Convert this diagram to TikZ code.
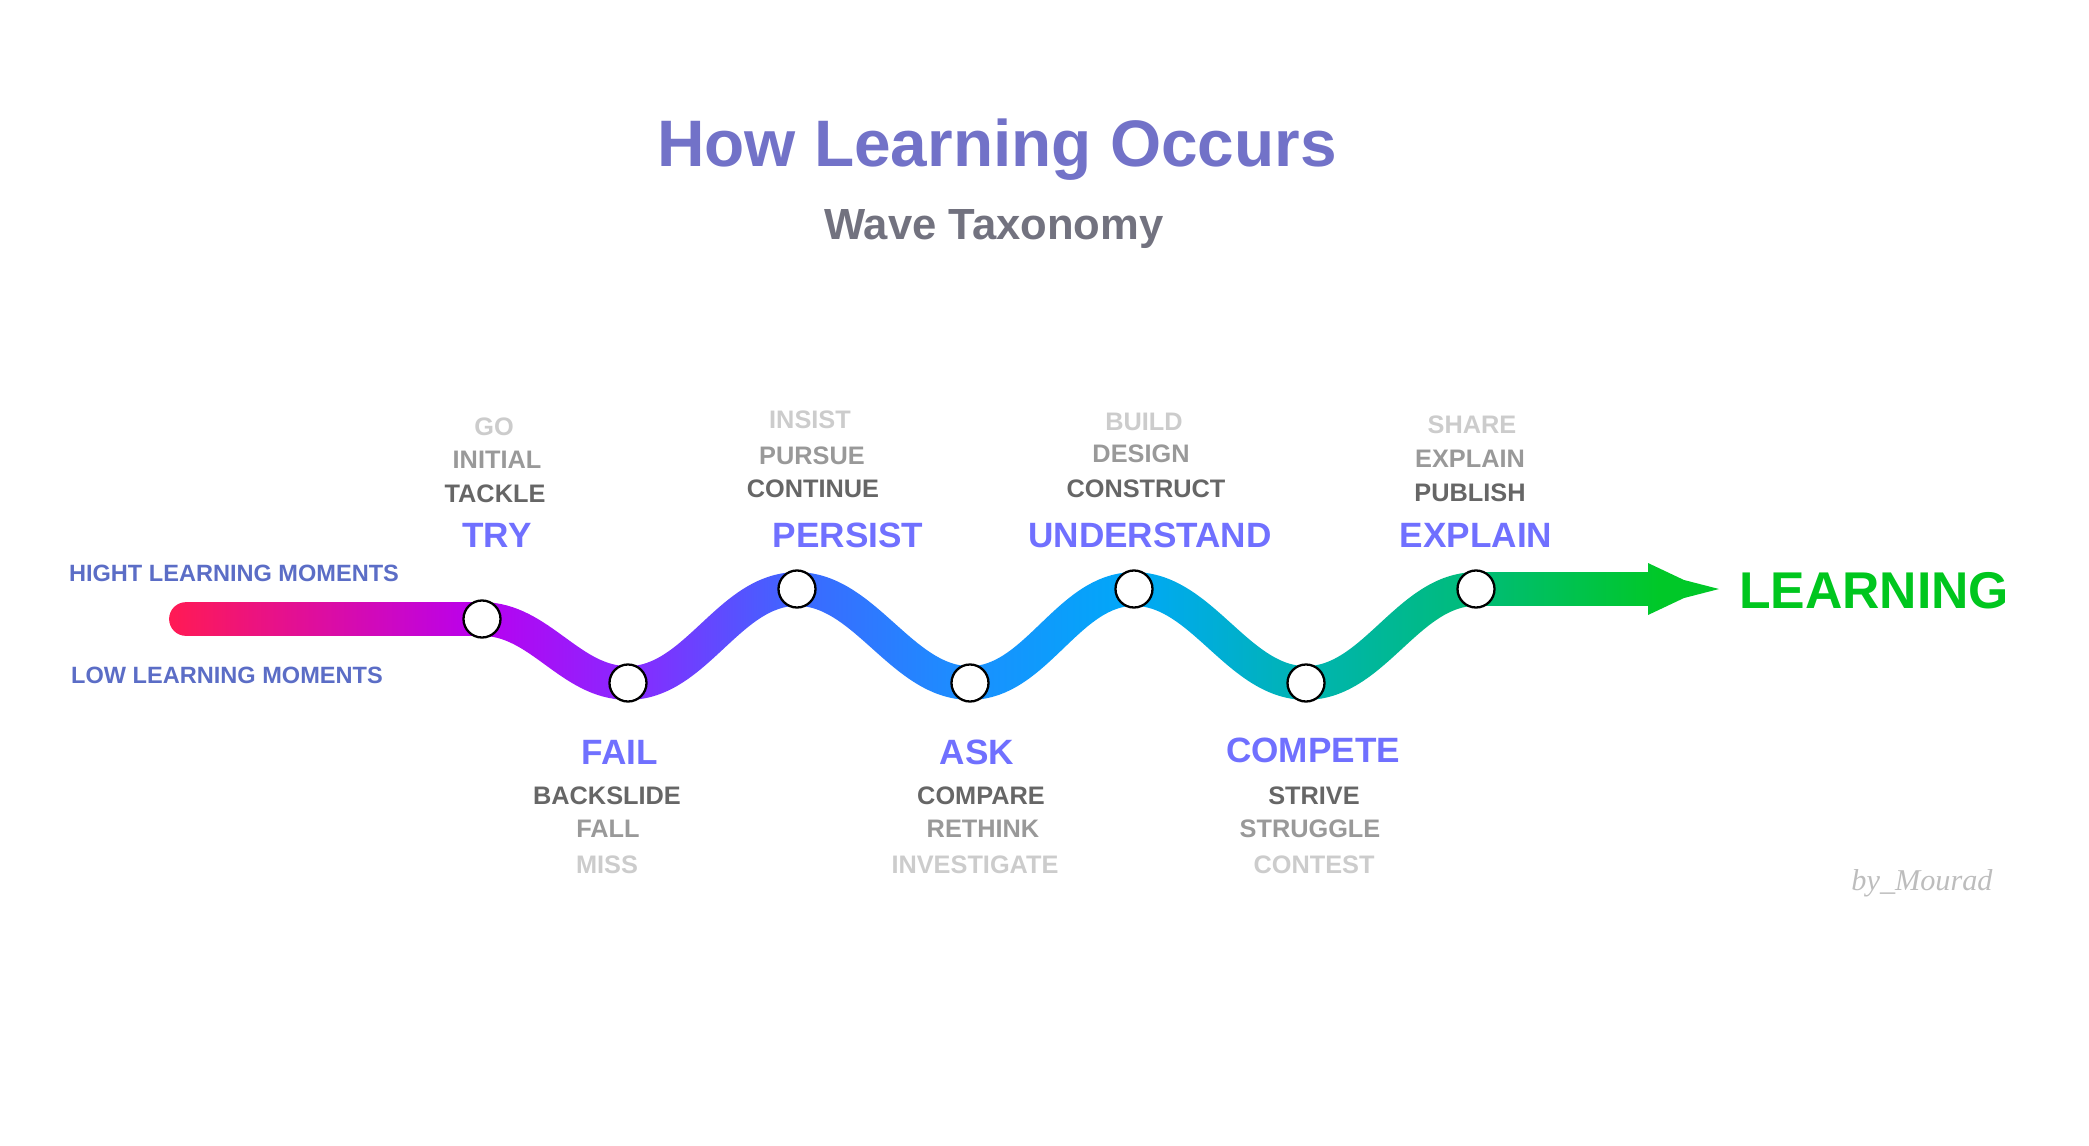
\documentclass[tikz,border=0pt]{standalone}
\usepackage{fontspec}
\setmainfont{Liberation Sans}
\newfontfamily\signfont{Liberation Serif}
\usetikzlibrary{fadings}

\definecolor{titleblue}{HTML}{7272C8}
\definecolor{subgray}{HTML}{72727F}
\definecolor{stageblue}{HTML}{7070FF}
\definecolor{momentblue}{HTML}{5B6DC6}
\definecolor{wdark}{HTML}{666666}
\definecolor{wmid}{HTML}{999999}
\definecolor{wlight}{HTML}{CCCCCC}
\definecolor{learngreen}{HTML}{00C61E}
\definecolor{signgray}{HTML}{BDBDBD}
\definecolor{waveA}{HTML}{FF1A55}
\definecolor{waveB}{HTML}{B800F0}
\definecolor{waveC}{HTML}{8A28FF}
\definecolor{waveD}{HTML}{3C68FF}
\definecolor{waveE}{HTML}{1A90FF}
\definecolor{waveF}{HTML}{00A8F8}
\definecolor{waveG}{HTML}{00B4B0}
\definecolor{waveH}{HTML}{00BC78}
\definecolor{waveI}{HTML}{00C828}

\pgfdeclarehorizontalshading{wavegrad}{100bp}{color(0bp)=(waveA); color(29.1bp)=(waveA);
  color(36.5bp)=(waveB); color(40bp)=(waveC); color(44.1bp)=(waveD); color(48.2bp)=(waveE);
  color(52.1bp)=(waveF); color(56.3bp)=(waveG); color(60.3bp)=(waveH); color(64.7bp)=(waveI);
  color(100bp)=(waveI)}

% the wave and the arrow, as a mask
\begin{tikzfadingfrompicture}[name=wavefade]
  \begin{scope}[x=0.01cm, y=-0.01cm, shift={(-1044.5,-572.5)}]
    \useasboundingbox (0,0) rectangle (2089,1145);
    \coordinate (w0) at (186,619);
    \coordinate (w1) at (482,619);
    \coordinate (w2) at (628,683);
    \coordinate (w3) at (797,589);
    \coordinate (w4) at (970,683);
    \coordinate (w5) at (1134,589);
    \coordinate (w6) at (1306,683);
    \coordinate (w7) at (1476,589);
    \coordinate (w8) at (1652,589);
    \coordinate (tip) at (1719,589);
    \draw[transparent!0, line width=9.6pt, line cap=round] (w0) -- (w1)
      .. controls +(58,0) and +(-58,0) .. (w2)
      .. controls +(68,0) and +(-68,0) .. (w3)
      .. controls +(68,0) and +(-68,0) .. (w4)
      .. controls +(66,0) and +(-66,0) .. (w5)
      .. controls +(68,0) and +(-68,0) .. (w6)
      .. controls +(68,0) and +(-68,0) .. (w7) -- (w8);
    \fill[transparent!0] (1648,563) -- (1684,580) -- (tip) -- (1684,598) -- (1648,615) -- cycle;
  \end{scope}
\end{tikzfadingfrompicture}

\begin{document}
\begin{tikzpicture}[x=0.01cm, y=-0.01cm, shift={(-1044.5,-572.5)},
    dot/.style={circle, draw=black, fill=white, line width=0.65pt, minimum size=0.37cm, inner sep=0pt},
    stage/.style={font=\fontsize{10}{12}\selectfont\bfseries, text=stageblue, inner sep=0pt, anchor=base},
    word/.style={font=\fontsize{7.2}{9}\selectfont\bfseries, inner sep=0pt, anchor=base},
    moment/.style={font=\fontsize{6.7}{8}\selectfont\bfseries, text=momentblue, inner sep=0pt, anchor=base}]
  \useasboundingbox (0,0) rectangle (2089,1145);

  \node[font=\fontsize{18.7}{22}\selectfont\bfseries, text=titleblue, inner sep=0pt, anchor=base]
    (title) at (997,167) {How Learning Occurs};
  \node[font=\fontsize{12.4}{14}\selectfont\bfseries, text=subgray, inner sep=0pt, anchor=base]
    (subtitle) at (994,240) {Wave Taxonomy};

  \shade[path fading=wavefade, fit fading=false, shading=wavegrad] (0,0) rectangle (2089,1145);

  \node[dot] (try) at (482,619) {};
  \node[dot] (fail) at (628,683) {};
  \node[dot] (persist) at (797,589) {};
  \node[dot] (ask) at (970,683) {};
  \node[dot] (understand) at (1134,589) {};
  \node[dot] (compete) at (1306,683) {};
  \node[dot] (explain) at (1476,589) {};

  \node[moment] (high) at (234,581) {HIGHT LEARNING MOMENTS};
  \node[moment] (low) at (227,683) {LOW LEARNING MOMENTS};

  \node[word, text=wlight] (go) at (494,435) {GO};
  \node[word, text=wmid] (initial) at (497,468) {INITIAL};
  \node[word, text=wdark] (tackle) at (495,502) {TACKLE};
  \node[stage] (trylbl) at (497,547) {TRY};

  \node[word, text=wlight] (insist) at (810,428) {INSIST};
  \node[word, text=wmid] (pursue) at (812,464) {PURSUE};
  \node[word, text=wdark] (continue) at (813,497) {CONTINUE};
  \node[stage] (persistlbl) at (848,547) {PERSIST};

  \node[word, text=wlight] (build) at (1144,430) {BUILD};
  \node[word, text=wmid] (design) at (1141,462) {DESIGN};
  \node[word, text=wdark] (construct) at (1146,497) {CONSTRUCT};
  \node[stage] (understandlbl) at (1150,547) {UNDERSTAND};

  \node[word, text=wlight] (share) at (1472,433) {SHARE};
  \node[word, text=wmid] (explainw) at (1470,467) {EXPLAIN};
  \node[word, text=wdark] (publish) at (1470,501) {PUBLISH};
  \node[stage] (explainlbl) at (1476,547) {EXPLAIN};

  \node[stage] (faillbl) at (620,764) {FAIL};
  \node[word, text=wdark] (backslide) at (607,804) {BACKSLIDE};
  \node[word, text=wmid] (fall) at (608,837) {FALL};
  \node[word, text=wlight] (miss) at (607,873) {MISS};

  \node[stage] (asklbl) at (977,764) {ASK};
  \node[word, text=wdark] (compare) at (981,804) {COMPARE};
  \node[word, text=wmid] (rethink) at (983,837) {RETHINK};
  \node[word, text=wlight] (investigate) at (975,873) {INVESTIGATE};

  \node[stage] (competelbl) at (1313,762) {COMPETE};
  \node[word, text=wdark] (strive) at (1314,804) {STRIVE};
  \node[word, text=wmid] (struggle) at (1310,837) {STRUGGLE};
  \node[word, text=wlight] (contest) at (1314,873) {CONTEST};

  \node[font=\fontsize{14.7}{17}\selectfont\bfseries, text=learngreen, inner sep=0pt, anchor=base]
    (learning) at (1874,608) {LEARNING};
  \node[font=\fontsize{8.6}{10}\selectfont\signfont\itshape, text=signgray, inner sep=0pt, anchor=base]
    (sign) at (1922,890) {by\_Mourad};
\end{tikzpicture}
\end{document}
